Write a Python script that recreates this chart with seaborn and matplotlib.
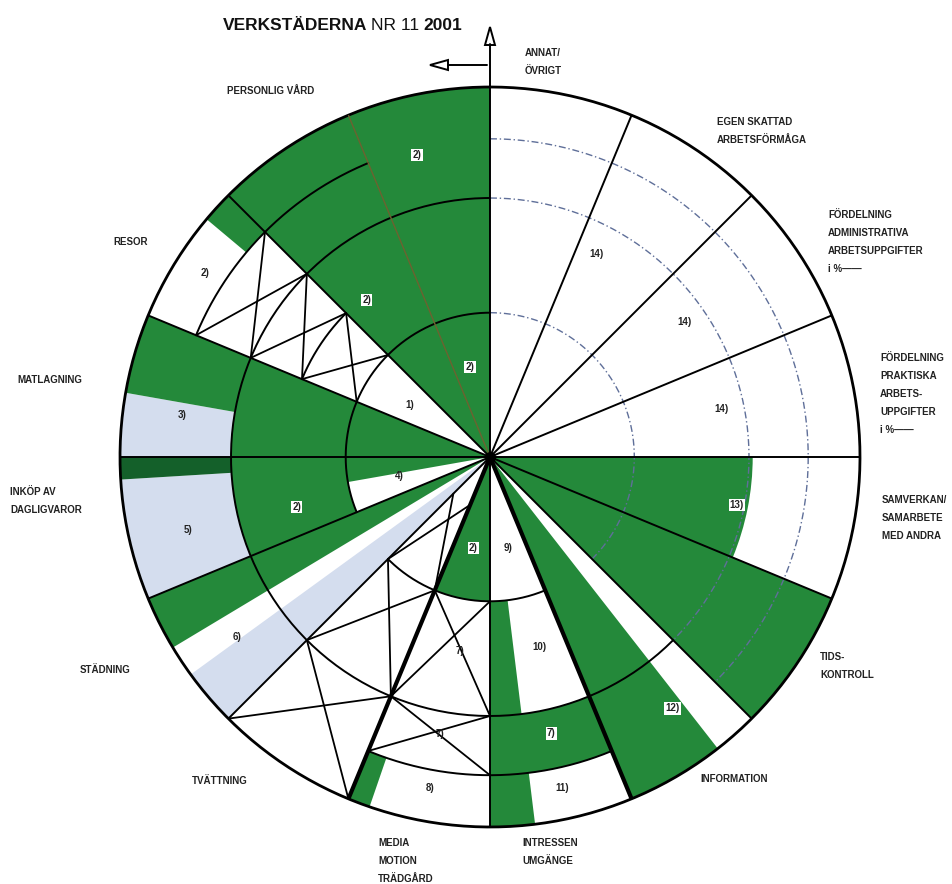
import numpy as np
import matplotlib
matplotlib.use('Agg')
import matplotlib.pyplot as plt
import seaborn as sns
from matplotlib.lines import Line2D
from matplotlib.patches import Polygon

sns.set_theme(style='white')
plt.rcParams['font.family'] = ['Liberation Sans', 'DejaVu Sans']

# ---------------- data (compass degrees, radius 0-100) ----------------
GREEN, LBLUE, DGREEN = '#24893a', '#d4ddee', '#14602a'
palette = {'g': GREEN, 'b': LBLUE, 'd': DGREEN}

seg_start = [90, 112.5, 142, 173, 157.5, 180, 199, 225, 239, 260, 247.5, 247.5, 266.5, 270, 270, 280, 310, 315]
seg_end   = [112.5, 135, 157.5, 180, 180, 202.5, 202.5, 234, 247.5, 270, 270, 266.5, 270, 292.5, 280, 292.5, 315, 360]
seg_inner = [0, 0, 0, 39, 70, 0, 86, 0, 0, 0, 39, 70, 70, 0, 70, 70, 86, 0]
seg_outer = [71, 100, 100, 100, 86, 39, 100, 100, 100, 39, 70, 100, 100, 70, 100, 100, 100, 100]
seg_color = ['g', 'g', 'g', 'g', 'g', 'g', 'g', 'b', 'g', 'g', 'g', 'b', 'd', 'g', 'b', 'g', 'g', 'g']

spoke_angles = [0, 22.5, 45, 67.5, 90, 112.5, 135, 157.5, 180, 202.5, 225, 247.5, 270, 292.5, 315, 337.5]
spoke_kind   = ['n', 'n', 'n', 'n', 'n', 'n', 'n', 't', 'n', 't', 'n', 'n', 'n', 'n', 'n', 'o']

ring_r    = [39, 39, 55, 70, 86, 86, 39, 70, 86]
ring_from = [157.5, 247.5, 292.5, 135, 157.5, 292.5, 0, 0, 0]
ring_to   = [225, 360, 315, 360, 202.5, 337.5, 135, 135, 135]
ring_kind = ['s', 's', 's', 's', 's', 's', 'd', 'd', 'd']

# crosshatched cells
xc_ta   = [202.5, 202.5, 202.5, 180, 180, 292.5, 292.5, 292.5]
xc_tb   = [225, 225, 225, 202.5, 202.5, 315, 315, 315]
xc_rin  = [14, 39, 70, 39, 70, 39, 55, 70]
xc_rout = [39, 70, 100, 70, 86, 55, 70, 86]

in_text  = ['14)', '14)', '14)', '13)', '12)', '9)', '10)', '7)', '11)', '2)', '7)', '7)', '8)',
            '6)', '4)', '5)', '2)', '3)', '1)', '2)', '2)', '2)', '2)']
in_theta = [27.7, 55.3, 78.3, 101, 144, 169, 165.3, 167.5, 167.7, 190.5, 188.7, 190.2, 190.2,
            234.6, 258, 256.5, 255.5, 277.8, 303, 302.8, 321.9, 346.4, 347.5]
in_r     = [62, 64, 64, 68, 84, 25, 53, 76.5, 91.6, 25, 53, 76, 91,
            84, 25, 84, 54, 84, 26, 91.6, 54, 84, 25]
in_boxed = [0, 0, 0, 1, 1, 0, 0, 1, 0, 1, 0, 0, 0,
            0, 0, 0, 1, 0, 0, 0, 1, 1, 1]

out_text = ['ANNAT/\nÖVRIGT', 'EGEN SKATTAD\nARBETSFÖRMÅGA',
            'FÖRDELNING\nADMINISTRATIVA\nARBETSUPPGIFTER\ni %——',
            'FÖRDELNING\nPRAKTISKA\nARBETS-\nUPPGIFTER\ni %——',
            'SAMVERKAN/\nSAMARBETE\nMED ANDRA', 'TIDS-\nKONTROLL', 'INFORMATION',
            'INTRESSEN\nUMGÄNGE', 'MEDIA\nMOTION\nTRÄDGÅRD', 'TVÄTTNING', 'STÄDNING',
            'INKÖP AV\nDAGLIGVAROR', 'MATLAGNING', 'RESOR', 'PERSONLIG VÅRD']
out_x = [525, 717, 828, 880, 882, 820, 700, 522, 378, 192, 80, 10, 17, 113, 227]
out_y = [53, 122, 215, 358, 500, 657, 779, 843, 843, 781, 670, 492, 380, 242, 91]

title_parts  = ['VERKSTÄDERNA', 'NR 11', '2001']
title_weight = ['bold', 'normal', 'bold']

# ---------------- figure ----------------
W, H = 952, 884
CX, CY, R = 490, 457, 370
fig = plt.figure(figsize=(W / 100, H / 100), dpi=100)
fig.patch.set_facecolor('white')
ax = fig.add_axes([(CX - R) / W, 1 - (CY + R) / H, 2 * R / W, 2 * R / H], projection='polar')
ax.set_theta_zero_location('N')
ax.set_theta_direction(-1)
ax.set_ylim(0, 100)
ax.axis('off')

d2r = np.deg2rad
for s, e, ri, ro, c in zip(seg_start, seg_end, seg_inner, seg_outer, seg_color):
    ax.bar(d2r((s + e) / 2), ro - ri, width=d2r(e - s), bottom=ri,
           color=palette[c], edgecolor='none', linewidth=0, zorder=1)

# rings
for r, a, b, k in zip(ring_r, ring_from, ring_to, ring_kind):
    th = d2r(np.linspace(a, b, 200))
    if k == 's':
        ax.plot(th, np.full_like(th, r), color='black', lw=1.4, zorder=3)
    else:
        ax.plot(th, np.full_like(th, r), color='#5f6f99', lw=1.0,
                ls=(0, (5, 2, 1, 2)), zorder=2)

# outer circle
th = d2r(np.linspace(0, 360, 400))
ax.plot(th, np.full_like(th, 100), color='black', lw=2, zorder=4, clip_on=False)

# spokes
for a, k in zip(spoke_angles, spoke_kind):
    if k == 't':
        ax.plot([d2r(a)] * 2, [0, 100], color='black', lw=3, zorder=4)
    elif k == 'o':
        ax.plot([d2r(a)] * 2, [0, 100], color='#6d6230', lw=1.0, zorder=4)
    else:
        ax.plot([d2r(a)] * 2, [0, 100], color='black', lw=1.4, zorder=4)


def chord(t1, r1, t2, r2, n=80):
    x1, y1 = r1 * np.sin(d2r(t1)), r1 * np.cos(d2r(t1))
    x2, y2 = r2 * np.sin(d2r(t2)), r2 * np.cos(d2r(t2))
    xs, ys = np.linspace(x1, x2, n), np.linspace(y1, y2, n)
    return np.unwrap(np.arctan2(xs, ys)), np.hypot(xs, ys)


for ta, tb, ri, ro in zip(xc_ta, xc_tb, xc_rin, xc_rout):
    for p, q in [((ta, ri), (tb, ro)), ((tb, ri), (ta, ro))]:
        t_, r_ = chord(p[0], p[1], q[0], q[1])
        ax.plot(t_, r_, color='black', lw=1.3, zorder=3)

ax.plot([0], [0], 'o', color='black', ms=7, zorder=5)

# inner labels
for s, t, r, b in zip(in_text, in_theta, in_r, in_boxed):
    kw = dict(ha='center', va='center', fontsize=7, fontweight='bold', color='#222222', zorder=6)
    if b:
        kw['bbox'] = dict(boxstyle='square,pad=0.12', fc='white', ec='none')
    ax.text(d2r(t), r, s, **kw)

# outer labels
for s, x, y in zip(out_text, out_x, out_y):
    for i, line in enumerate(s.split('\n')):
        fig.text(x / W, 1 - (y + i * 18) / H, line, ha='left', va='center',
                 fontsize=7, fontweight='bold', color='#222222')

# axis arrow (up) and left arrow
fx = lambda x: x / W
fy = lambda y: 1 - y / H
fig.add_artist(Line2D([fx(CX), fx(CX)], [fy(CY - R), fy(44)], color='black', lw=1.4))
fig.add_artist(Polygon([[fx(CX), fy(27)], [fx(CX - 5), fy(45)], [fx(CX + 5), fy(45)]],
                       closed=True, fc='white', ec='black', lw=1.4))
fig.add_artist(Line2D([fx(487), fx(448)], [fy(65), fy(65)], color='black', lw=1.4))
fig.add_artist(Polygon([[fx(430), fy(65)], [fx(448), fy(60)], [fx(448), fy(70)]],
                       closed=True, fc='white', ec='black', lw=1.4))

# title, pieces placed one after another
fig.canvas.draw()
rend = fig.canvas.get_renderer()
xpos = 223
for part, wt in zip(title_parts, title_weight):
    t = fig.text(fx(xpos), fy(25), part, ha='left', va='center', fontsize=12.5,
                 fontweight=wt, color='#111111')
    bb = t.get_window_extent(rend)
    xpos = bb.x1 + 4

fig.savefig('out.png', dpi=100, facecolor='white')
